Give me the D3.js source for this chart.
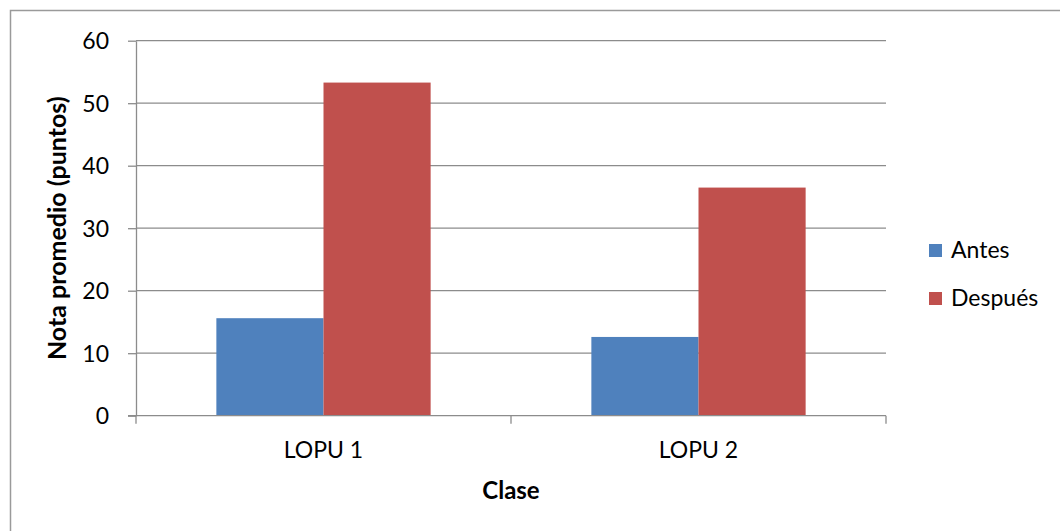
<!DOCTYPE html>
<html>
<head>
<meta charset="utf-8">
<script src="https://cdn.jsdelivr.net/npm/d3@7"></script>
<style>
  html, body { margin: 0; padding: 0; background: #fff; }
  svg { display: block; font-family: Lato, "Open Sans", sans-serif; }
</style>
</head>
<body>
<svg id="chart" width="1060" height="531"></svg>
<script>
// Average grade per class, before and after
const categories = ["LOPU 1", "LOPU 2"];
const seriesNames = ["Antes", "Después"];
const antes = [15.6, 12.6];
const despues = [53.3, 36.5];
const yTicks = [0, 10, 20, 30, 40, 50, 60];
const colors = ["#4F81BD", "#C0504D"];

const svg = d3.select("#chart");
const plot = { left: 136, right: 886, top: 40.7, bottom: 415.7 };
const gridColor = "#8c8c8c";
const fontSize = 23;

// Outer frame of the chart area
svg.append("rect")
  .attr("x", 10.5).attr("y", 10.5)
  .attr("width", 1100).attr("height", 600)
  .attr("fill", "none").attr("stroke", "#9a9a9a").attr("stroke-width", 1.5);

const y = d3.scaleLinear().domain([0, 60]).range([plot.bottom, plot.top]);
const x0 = d3.scaleBand().domain(categories).range([plot.left, plot.right])
  .paddingInner(0.4286).paddingOuter(0.2143);
const x1 = d3.scaleBand().domain(seriesNames).range([0, x0.bandwidth()]);

// Horizontal gridlines
svg.append("g").selectAll("line").data(yTicks.filter(d => d > 0)).join("line")
  .attr("x1", plot.left).attr("x2", plot.right)
  .attr("y1", d => y(d)).attr("y2", d => y(d))
  .attr("stroke", gridColor).attr("stroke-width", 1.3);

// Bars
const rows = categories.map((c, i) => ({ cat: c, vals: [antes[i], despues[i]] }));
const groups = svg.append("g").selectAll("g").data(rows).join("g")
  .attr("transform", d => `translate(${x0(d.cat)},0)`);
groups.selectAll("rect").data(d => d.vals.map((v, j) => ({ name: seriesNames[j], v, j })))
  .join("rect")
  .attr("x", d => x1(d.name))
  .attr("width", x1.bandwidth())
  .attr("y", d => y(d.v))
  .attr("height", d => y(0) - y(d.v))
  .attr("fill", d => colors[d.j]);

// Y axis
const yAxis = d3.axisLeft(y).tickValues(yTicks).tickSize(8).tickPadding(19).tickSizeOuter(0);
const gy = svg.append("g").attr("transform", `translate(${plot.left},0)`).call(yAxis);
gy.select(".domain").attr("stroke", gridColor).attr("stroke-width", 1.3);
gy.selectAll(".tick line").attr("stroke", gridColor).attr("stroke-width", 1.3);
gy.selectAll(".tick text").attr("font-size", fontSize).attr("fill", "#000")
  .attr("font-family", "Lato, 'Open Sans', sans-serif").attr("dy", "0.36em");

// X axis baseline and category boundary ticks
svg.append("line")
  .attr("x1", plot.left - 8).attr("x2", plot.right)
  .attr("y1", y(0)).attr("y2", y(0))
  .attr("stroke", gridColor).attr("stroke-width", 1.3);
const step = x0.step();
const bounds = d3.range(categories.length + 1).map(i => plot.left + i * step);
svg.append("g").selectAll("line").data(bounds).join("line")
  .attr("x1", d => d).attr("x2", d => d)
  .attr("y1", y(0)).attr("y2", y(0) + 8)
  .attr("stroke", gridColor).attr("stroke-width", 1.3);

// Category labels
svg.append("g").selectAll("text").data(categories).join("text")
  .attr("x", d => x0(d) + x0.bandwidth() / 2)
  .attr("y", 458)
  .attr("text-anchor", "middle")
  .attr("font-size", fontSize)
  .text(d => d);

// Axis titles
svg.append("text")
  .attr("x", (plot.left + plot.right) / 2).attr("y", 499)
  .attr("text-anchor", "middle").attr("font-size", 24).attr("font-weight", "bold")
  .text("Clase");
svg.append("text")
  .attr("transform", `translate(66,${(plot.top + plot.bottom) / 2}) rotate(-90)`)
  .attr("text-anchor", "middle").attr("font-size", 25).attr("font-weight", "bold")
  .text("Nota promedio (puntos)");

// Legend
const legend = svg.append("g").selectAll("g").data(seriesNames).join("g")
  .attr("transform", (d, i) => `translate(929,${258 + i * 48})`);
legend.append("rect")
  .attr("x", 0).attr("y", -14).attr("width", 13).attr("height", 13)
  .attr("fill", (d, i) => colors[i]);
legend.append("text")
  .attr("x", 22).attr("y", 0)
  .attr("font-size", fontSize)
  .text(d => d);
</script>
</body>
</html>
